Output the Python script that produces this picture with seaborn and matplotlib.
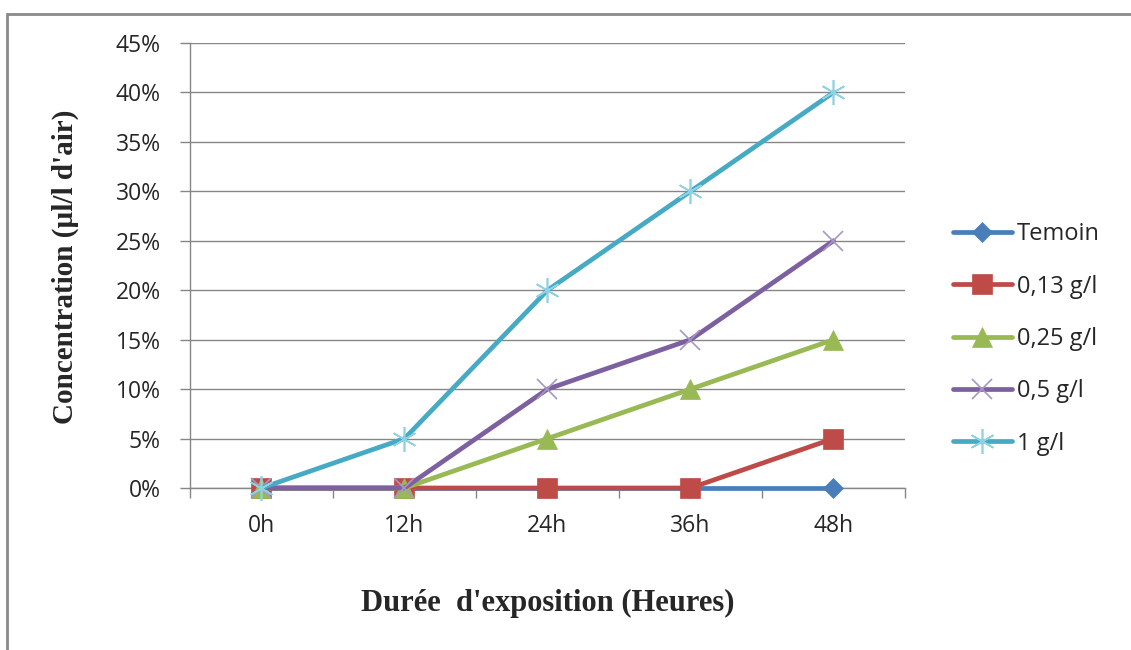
import matplotlib
matplotlib.use("Agg")
import matplotlib.pyplot as plt
import matplotlib.patches as mpatches
from matplotlib.ticker import FixedLocator, PercentFormatter
import seaborn as sns
import pandas as pd

# Exposure durations and concentration series (%)
durations = ["0h", "12h", "24h", "36h", "48h"]
temoin = [0, 0, 0, 0, 0]
dose_013 = [0, 0, 0, 0, 5]
dose_025 = [0, 0, 5, 10, 15]
dose_05 = [0, 0, 10, 15, 25]
dose_1 = [0, 5, 20, 30, 40]

series_names = ["Temoin", "0,13 g/l", "0,25 g/l", "0,5 g/l", "1 g/l"]
series_values = [temoin, dose_013, dose_025, dose_05, dose_1]

line_colors = ["#4A7EBB", "#BE4B48", "#98B954", "#7D60A0", "#46AAC5"]
marker_shapes = ["D", "s", "^", "x", (6, 2, 0)]
marker_sizes = [10, 15, 14, 15, 18]
marker_edges = ["#4A7EBB", "#BE4B48", "#98B954", "#A797C4", "#8ED2E3"]

sns.set_theme(style="white")
plt.rcParams["font.family"] = ["Open Sans", "DejaVu Sans"]

fig = plt.figure(figsize=(11.31, 6.5), dpi=100)
ax = fig.add_axes([190 / 1131, 1 - 488 / 650, (905 - 190) / 1131, (488 - 43) / 650])

rows = []
for name, vals in zip(series_names, series_values):
    for i, v in enumerate(vals):
        rows.append({"pos": i, "value": v, "serie": name})
df = pd.DataFrame(rows)

for name, col, mk, ms, me in zip(series_names, line_colors, marker_shapes, marker_sizes, marker_edges):
    sub = df[df["serie"] == name]
    thin = mk == "x" or isinstance(mk, tuple)
    sns.lineplot(data=sub, x="pos", y="value", ax=ax, color=col, linewidth=3.4,
                 marker=mk, markersize=ms, markerfacecolor=me if not thin else "none",
                 markeredgecolor=me, markeredgewidth=1.2 if thin else 0.5,
                 label=name, clip_on=False, zorder=3)

ax.set_xlim(-0.5, 4.5)
ax.set_ylim(0, 45)
ax.yaxis.set_major_locator(FixedLocator(range(0, 46, 5)))
ax.yaxis.set_major_formatter(PercentFormatter(decimals=0))
ax.set_xticks(range(len(durations)))
ax.set_xticklabels(durations)
ax.xaxis.set_minor_locator(FixedLocator([-0.5, 0.5, 1.5, 2.5, 3.5, 4.5]))

grid_gray = "#868686"
ax.grid(axis="y", color=grid_gray, linewidth=1.0)
ax.set_axisbelow(True)
for side in ["top", "right"]:
    ax.spines[side].set_visible(False)
for side in ["left", "bottom"]:
    ax.spines[side].set_color(grid_gray)
    ax.spines[side].set_linewidth(1.0)

text_color = "#262626"
ax.tick_params(axis="y", which="major", left=True, length=7, width=1.0, color=grid_gray,
               labelsize=16.5, labelcolor=text_color, pad=14)
ax.tick_params(axis="x", which="major", bottom=False, length=0, labelsize=16.5,
               labelcolor=text_color, pad=19)
ax.tick_params(axis="x", which="minor", bottom=True, length=7, width=1.0, color=grid_gray)

ax.set_xlabel("")
ax.set_ylabel("")
label_font = ["Liberation Serif", "DejaVu Serif"]
fig.text(548 / 1131, 1 - 603 / 650, "Durée  d'exposition (Heures)", ha="center", va="center",
         fontsize=22, fontweight="bold", family=label_font)
fig.text(65 / 1131, 1 - 267 / 650, "Concentration (µl/l d'air)", ha="center", va="center",
         rotation=90, fontsize=21, fontweight="bold", family=label_font)

leg = ax.legend(loc="center left", bbox_to_anchor=(1.067, 0.335), frameon=False,
                fontsize=17, handlelength=2.5, handletextpad=0.2, labelspacing=1.2,
                borderaxespad=0, borderpad=0)
for txt in leg.get_texts():
    txt.set_color(text_color)

# Chart frame
fig.patches.append(mpatches.Rectangle((7 / 1131, -0.05), 1.2, 1 - 14 / 650 + 0.05,
                                      transform=fig.transFigure, fill=False,
                                      edgecolor="#8a8a8a", linewidth=2.0))

fig.savefig("out.png", dpi=100)
